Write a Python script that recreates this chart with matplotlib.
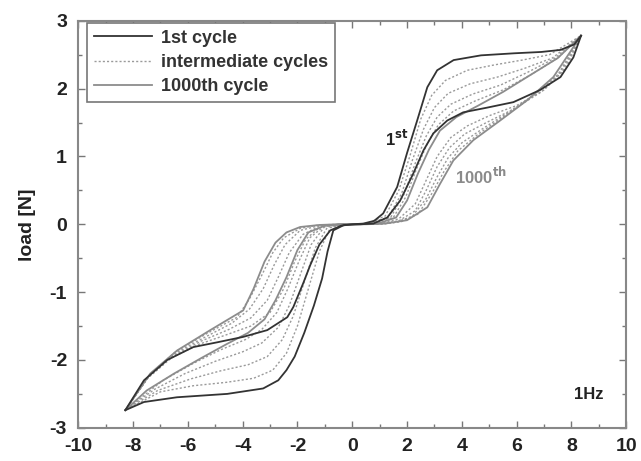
import matplotlib
matplotlib.use("Agg")
import matplotlib.pyplot as plt
from matplotlib.ticker import MultipleLocator

plt.rcParams['font.family'] = ['Liberation Sans', 'DejaVu Sans']
plt.rcParams['font.weight'] = 'bold'
plt.rcParams['axes.unicode_minus'] = False

# ---- data (displacement, load [N]) ----
# 1st cycle, ascending branch (x going up) and descending branch
first_up_x = [-8.28, -7.6, -6.75, -5.8, -4.93, -3.98, -3.1, -2.37, -2.15, -1.79, -1.53, -1.2, -0.8, -0.4, 0.0,
              0.4, 0.8, 1.13, 1.64, 2.0, 2.37, 2.74, 3.1, 3.7, 4.7, 5.9, 6.9, 7.6, 8.1, 8.35]
first_up_y = [-2.74, -2.3, -2.0, -1.81, -1.74, -1.66, -1.56, -1.37, -1.22, -0.87, -0.6, -0.3, -0.09, -0.02, 0.0,
              0.01, 0.05, 0.16, 0.55, 1.05, 1.53, 2.02, 2.27, 2.42, 2.49, 2.52, 2.54, 2.57, 2.65, 2.78]
first_down_x = [8.35, 8.07, 7.6, 6.86, 5.88, 4.93, 4.05, 3.47, 2.96, 2.6, 2.23, 1.75, 1.28, 0.77, 0.3,
                -0.3, -0.69, -0.9, -1.1, -1.4, -1.75, -2.1, -2.4, -2.7, -3.25, -4.56, -6.4, -7.6, -8.28]
first_down_y = [2.78, 2.46, 2.17, 1.98, 1.8, 1.72, 1.65, 1.53, 1.34, 1.09, 0.75, 0.35, 0.1, 0.01, 0.0,
                -0.01, -0.09, -0.4, -0.8, -1.2, -1.6, -1.95, -2.15, -2.3, -2.42, -2.5, -2.55, -2.62, -2.74]

# 1000th cycle
last_up_x = [-8.28, -7.37, -6.39, -5.18, -3.98, -3.6, -3.2, -2.8, -2.4, -1.9, -1.2, -0.5,
             0.3, 1.0, 1.6, 2.0, 2.4, 2.8, 3.2, 3.8, 4.6, 5.5, 6.5, 7.5, 8.35]
last_up_y = [-2.74, -2.2, -1.86, -1.56, -1.27, -0.95, -0.55, -0.27, -0.12, -0.04, -0.01, 0.0,
             0.0, 0.02, 0.1, 0.35, 0.75, 1.1, 1.38, 1.58, 1.75, 1.95, 2.2, 2.45, 2.78]
last_down_x = [8.35, 7.34, 6.39, 5.4, 4.42, 3.69, 3.21, 2.74, 2.0, 1.2, 0.5,
               -0.3, -1.0, -1.6, -2.0, -2.4, -2.8, -3.2, -3.8, -4.6, -5.5, -6.5, -7.5, -8.28]
last_down_y = [2.78, 2.17, 1.83, 1.53, 1.24, 0.94, 0.6, 0.25, 0.06, 0.01, 0.0,
               0.0, -0.02, -0.12, -0.38, -0.78, -1.12, -1.4, -1.6, -1.77, -1.97, -2.2, -2.45, -2.74]

# intermediate cycles (dotted)
mid_up_x = [
    [-8.28, -7.5, -6.6, -5.6, -4.6, -3.7, -3.0, -2.5, -2.1, -1.7, -1.2, -0.5,
     0.5, 1.2, 1.7, 2.1, 2.5, 2.9, 3.4, 4.2, 5.2, 6.2, 7.2, 8.35],
    [-8.28, -7.45, -6.55, -5.5, -4.5, -3.7, -3.1, -2.7, -2.3, -1.8, -1.2, -0.5,
     0.5, 1.3, 1.8, 2.2, 2.6, 3.0, 3.5, 4.3, 5.3, 6.3, 7.3, 8.35],
    [-8.28, -7.4, -6.5, -5.4, -4.4, -3.75, -3.25, -2.85, -2.45, -1.9, -1.2, -0.5,
     0.5, 1.4, 1.9, 2.3, 2.7, 3.1, 3.6, 4.4, 5.4, 6.4, 7.4, 8.35],
    [-8.28, -7.38, -6.45, -5.3, -4.2, -3.75, -3.3, -2.9, -2.5, -1.9, -1.2, -0.5,
     0.5, 1.5, 1.95, 2.35, 2.75, 3.15, 3.7, 4.5, 5.5, 6.5, 7.5, 8.35],
]
mid_up_y = [
    [-2.74, -2.28, -1.97, -1.77, -1.63, -1.5, -1.3, -0.95, -0.55, -0.22, -0.05, 0.0,
     0.01, 0.12, 0.5, 1.0, 1.55, 1.9, 2.12, 2.27, 2.35, 2.42, 2.5, 2.78],
    [-2.74, -2.26, -1.94, -1.72, -1.55, -1.38, -1.12, -0.78, -0.42, -0.15, -0.03, 0.0,
     0.01, 0.1, 0.45, 0.95, 1.4, 1.72, 1.93, 2.07, 2.17, 2.3, 2.45, 2.78],
    [-2.74, -2.23, -1.91, -1.67, -1.46, -1.25, -0.95, -0.6, -0.3, -0.09, -0.02, 0.0,
     0.0, 0.1, 0.45, 0.9, 1.3, 1.58, 1.77, 1.92, 2.05, 2.24, 2.45, 2.78],
    [-2.74, -2.21, -1.88, -1.61, -1.37, -1.1, -0.75, -0.42, -0.2, -0.06, -0.01, 0.0,
     0.0, 0.1, 0.4, 0.82, 1.2, 1.47, 1.67, 1.82, 1.98, 2.2, 2.45, 2.78],
]
mid_down_x = [
    [8.35, 7.8, 7.0, 6.0, 5.0, 4.2, 3.6, 3.1, 2.7, 2.3, 1.7, 1.0,
     -0.3, -0.8, -1.2, -1.6, -2.0, -2.4, -2.9, -3.6, -4.6, -5.8, -7.0, -8.28],
    [8.35, 7.7, 6.9, 5.9, 4.9, 4.1, 3.55, 3.1, 2.7, 2.3, 1.7, 1.0,
     -0.3, -0.9, -1.35, -1.75, -2.15, -2.55, -3.1, -3.8, -4.8, -5.9, -7.1, -8.28],
    [8.35, 7.6, 6.7, 5.7, 4.8, 4.0, 3.5, 3.1, 2.7, 2.2, 1.6, 1.0,
     -0.3, -1.0, -1.5, -1.9, -2.3, -2.7, -3.3, -4.0, -5.0, -6.1, -7.2, -8.28],
    [8.35, 7.5, 6.5, 5.5, 4.6, 3.85, 3.35, 2.9, 2.4, 1.8, 1.0,
     -0.3, -1.0, -1.55, -1.95, -2.35, -2.75, -3.3, -3.9, -4.8, -5.8, -6.9, -8.28],
]
mid_down_y = [
    [2.78, 2.3, 1.98, 1.75, 1.6, 1.45, 1.28, 1.0, 0.65, 0.3, 0.08, 0.01,
     0.0, -0.05, -0.4, -0.95, -1.5, -1.9, -2.15, -2.27, -2.33, -2.38, -2.47, -2.74],
    [2.78, 2.27, 1.95, 1.7, 1.5, 1.33, 1.13, 0.85, 0.5, 0.2, 0.05, 0.01,
     0.0, -0.04, -0.35, -0.85, -1.35, -1.7, -1.95, -2.07, -2.16, -2.28, -2.45, -2.74],
    [2.78, 2.24, 1.92, 1.65, 1.42, 1.2, 0.98, 0.7, 0.38, 0.12, 0.03, 0.0,
     0.0, -0.03, -0.3, -0.75, -1.2, -1.52, -1.75, -1.88, -2.02, -2.2, -2.43, -2.74],
    [2.78, 2.2, 1.87, 1.58, 1.33, 1.08, 0.78, 0.45, 0.15, 0.04, 0.0,
     0.0, -0.02, -0.2, -0.55, -0.95, -1.3, -1.55, -1.7, -1.85, -2.05, -2.3, -2.74],
]

fig = plt.figure(figsize=(6.41, 4.61), dpi=100)
ax = fig.add_axes([0.122, 0.072, 0.855, 0.883])

dark = '#333333'
grey = '#8c8c8c'

# intermediate cycles first, so the solid ones sit on top
for i in range(len(mid_up_x)):
    lab = 'intermediate cycles' if i == 0 else None
    ax.plot(mid_up_x[i], mid_up_y[i], ls=(0, (1.5, 1.5)), color='#9a9a9a', lw=1.0, label=lab)
    ax.plot(mid_down_x[i], mid_down_y[i], ls=(0, (1.5, 1.5)), color='#9a9a9a', lw=1.0)

ax.plot(first_up_x, first_up_y, color=dark, lw=1.3, label='1st cycle', zorder=4)
ax.plot(first_down_x, first_down_y, color=dark, lw=1.3, zorder=4)
ax.plot(last_up_x, last_up_y, color=grey, lw=1.3, label='1000th cycle', zorder=3)
ax.plot(last_down_x, last_down_y, color=grey, lw=1.3, zorder=3)

# reorder legend entries: 1st, intermediate, 1000th
h, l = ax.get_legend_handles_labels()
order = [l.index('1st cycle'), l.index('intermediate cycles'), l.index('1000th cycle')]
leg = ax.legend([h[k] for k in order], [l[k] for k in order], loc='upper left',
                bbox_to_anchor=(0.012, 1.0), fancybox=False, framealpha=1,
                edgecolor='#777777', fontsize=13, handlelength=3.2, borderpad=0.4,
                labelspacing=0.4, handletextpad=0.5, borderaxespad=0.1)
leg.get_frame().set_linewidth(1.2)
for t in leg.get_texts():
    t.set_color('#333333')

ax.text(1.2, 1.15, r'1$^{\mathbf{st}}$', fontsize=12, color='#222222', weight='bold')
ax.text(3.75, 0.6, r'1000$^{\mathbf{th}}$', fontsize=12, color='#8a8a8a', weight='bold')
ax.text(8.1, -2.58, '1Hz', fontsize=12, color='#222222', weight='bold')

ax.set_xlim(-10, 10)
ax.set_ylim(-3, 3)
ax.xaxis.set_major_locator(MultipleLocator(2))
ax.xaxis.set_minor_locator(MultipleLocator(1))
ax.yaxis.set_major_locator(MultipleLocator(1))
ax.yaxis.set_minor_locator(MultipleLocator(0.5))
ax.tick_params(which='both', direction='in', top=True, right=True, colors='#777777',
               labelcolor='#222222', labelsize=14, width=1)
ax.tick_params(which='major', length=5)
ax.tick_params(which='minor', length=3)
ax.tick_params(axis='x', pad=7)
ax.tick_params(axis='y', pad=8)
for s in ax.spines.values():
    s.set_color('#888888')
    s.set_linewidth(1.5)

ax.set_ylabel('load [N]', fontsize=14, weight='bold', color='#222222', labelpad=10)

fig.canvas.draw()
for lbl in ax.get_xticklabels() + ax.get_yticklabels():
    lbl.set_fontweight('bold')

fig.savefig('out.png', dpi=100)
